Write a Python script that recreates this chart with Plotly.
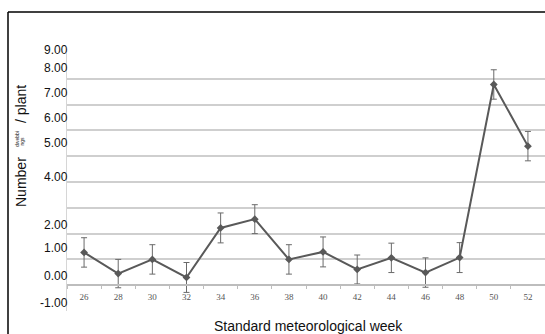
import plotly.graph_objects as go

# ---- data ----
weeks = [26, 28, 30, 32, 34, 36, 38, 40, 42, 44, 46, 48, 50, 52]
webbings = [1.27, 0.45, 1.00, 0.30, 2.22, 2.56, 1.00, 1.29, 0.61, 1.06, 0.49, 1.07, 7.78, 5.39]
errors = [0.57, 0.55, 0.57, 0.58, 0.58, 0.56, 0.57, 0.58, 0.56, 0.57, 0.57, 0.58, 0.57, 0.57]
x_ticks = [26, 28, 30, 32, 34, 36, 38, 40, 42, 44, 46, 48, 50, 52]
grid_values = [-1, 0, 1, 2, 3, 4, 5, 6, 7, 8, 9]
overlay_labels = ["9.00", "8.00", "7.00", "6.00", "5.00", "4.00", "2.00", "1.00", "0.00", "-1.00"]
overlay_label_at = [9.11, 8.41, 7.44, 6.47, 5.50, 4.19, 2.33, 1.43, 0.35, -0.70]

# ---- layout geometry ----
W, H = 545, 334
ML, MR, MT, MB = 67, 0, 53, 23
YR = [-1, 9]
XR = [25, 53]
PW, PH = W - ML - MR, H - MT - MB

def px_x(px):
    return (px - ML) / PW

def px_y(py):
    return (H - MB - py) / PH

def val_y(v):
    return (v - YR[0]) / (YR[1] - YR[0])

line_col = "#595959"
grid_col = "#cfcfcf"

fig = go.Figure()
fig.add_trace(go.Scatter(
    x=weeks, y=webbings, mode="lines+markers",
    line=dict(color=line_col, width=2),
    marker=dict(symbol="diamond", size=6, color=line_col),
    error_y=dict(type="data", array=errors, visible=True,
                 color="#6a6a6a", thickness=1, width=3),
    showlegend=False, hoverinfo="skip",
))

fig.update_layout(
    width=W, height=H,
    margin=dict(l=ML, r=MR, t=MT, b=MB, autoexpand=False),
    paper_bgcolor="white", plot_bgcolor="white",
    xaxis=dict(
        range=XR, tickvals=x_ticks, ticktext=[str(v) for v in x_ticks],
        anchor="free", position=val_y(0),
        showline=True, linecolor="#bdbdbd", linewidth=1.5,
        showgrid=False, zeroline=False, automargin=False,
        ticks="outside", ticklen=3, tickcolor="rgba(0,0,0,0)",
        minor=dict(tick0=27, dtick=2, ticks="outside", ticklen=3,
                   tickcolor="#bdbdbd", showgrid=False),
        tickfont=dict(family="Liberation Serif", size=9, color="#555555"),
    ),
    yaxis=dict(
        range=YR, tickvals=grid_values, showticklabels=False,
        showgrid=True, gridcolor=grid_col, gridwidth=1.5,
        zeroline=False, showline=True, linecolor="#d6d6d6", linewidth=1,
        ticks="", automargin=False,
    ),
)

# overlaid value labels on the left (as in the reference, slightly offset from the grid)
for lab, pos in zip(overlay_labels, overlay_label_at):
    fig.add_annotation(text=lab, xref="paper", yref="paper", x=px_x(70), y=val_y(pos),
                       xanchor="right", yanchor="middle", showarrow=False,
                       font=dict(family="Liberation Sans", size=12, color="#111111"))

# outer black frame (top and left)
fig.add_shape(type="line", xref="paper", yref="paper",
              x0=px_x(8), x1=px_x(560), y0=px_y(12), y1=px_y(12),
              line=dict(color="black", width=1.5))
fig.add_shape(type="line", xref="paper", yref="paper",
              x0=px_x(8), x1=px_x(8), y0=px_y(12), y1=px_y(350),
              line=dict(color="black", width=1.5))

# axis titles
fig.add_annotation(text="Standard meteorological week", xref="paper", yref="paper",
                   x=px_x(308), y=px_y(326), xanchor="center", yanchor="middle",
                   showarrow=False, font=dict(family="Liberation Sans", size=14, color="#111111"))
fig.add_annotation(text="Number", xref="paper", yref="paper", textangle=-90,
                   x=px_x(21), y=px_y(182), xanchor="center", yanchor="middle",
                   showarrow=False, font=dict(family="Liberation Sans", size=14, color="#111111"))
fig.add_annotation(text="/ plant", xref="paper", yref="paper", textangle=-90,
                   x=px_x(21), y=px_y(104), xanchor="center", yanchor="middle",
                   showarrow=False, font=dict(family="Liberation Sans", size=14, color="#111111"))
fig.add_annotation(text="dwebbi", xref="paper", yref="paper", textangle=-90,
                   x=px_x(17), y=px_y(139), xanchor="center", yanchor="middle",
                   showarrow=False, font=dict(family="Liberation Sans", size=5, color="#222222"))
fig.add_annotation(text="ngs", xref="paper", yref="paper", textangle=-90,
                   x=px_x(21.5), y=px_y(141), xanchor="center", yanchor="middle",
                   showarrow=False, font=dict(family="Liberation Sans", size=5, color="#222222"))

fig.write_html("out.html", config={"displayModeBar": False},
               post_script="document.body.style.margin='0';document.body.style.overflow='hidden';")
